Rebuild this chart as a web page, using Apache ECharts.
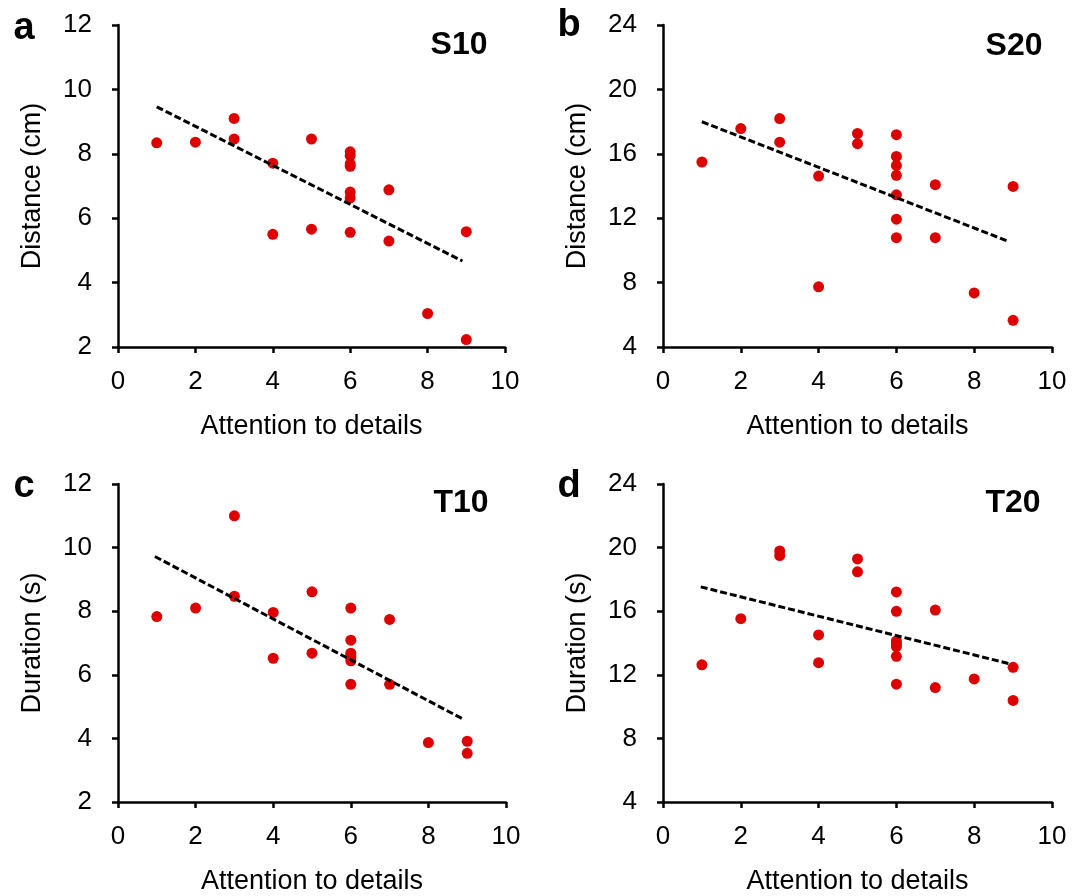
<!DOCTYPE html>
<html>
<head>
<meta charset="utf-8">
<script src="https://cdn.jsdelivr.net/npm/echarts@6/dist/echarts.min.js"></script>
<style>
  html, body { margin: 0; padding: 0; background: #ffffff; }
  #chart { width: 1083px; height: 896px; }
</style>
</head>
<body>
<div id="chart"></div>
<script>
// attention score of each participant (shared by all four panels)
const attention = [1, 2, 3, 3, 4, 4, 5, 5, 6, 6, 6, 6, 6, 6, 6, 7, 7, 8, 9, 9]

const distS10 = [8.34, 8.36, 9.1, 8.46, 7.71, 5.5, 8.46, 5.66, 8.06, 7.94, 7.69, 7.61, 6.81, 6.63, 5.56, 6.88, 5.29, 3.04, 5.58, 2.23]
const distS20 = [15.49, 17.57, 18.19, 16.72, 14.62, 7.74, 17.26, 16.63, 17.19, 15.84, 15.28, 14.66, 13.45, 11.94, 10.79, 14.08, 10.79, 7.36, 13.97, 5.66]
const durT10 = [7.83, 8.1, 11.0, 8.47, 7.96, 6.52, 8.61, 6.68, 8.1, 7.09, 6.68, 6.55, 6.44, 6.6, 5.7, 7.74, 5.7, 3.87, 3.91, 3.53]
const durT20 = [12.63, 15.53, 19.79, 19.5, 14.51, 12.76, 19.29, 18.48, 17.21, 15.99, 14.13, 13.95, 13.78, 13.16, 11.41, 16.07, 11.2, 11.74, 12.47, 10.39]

// linear trend end points (x, y)
const trendS10 = [[1, 9.46], [8.9, 4.67]]
const trendS20 = [[1, 17.99], [8.9, 10.54]]
const trendT10 = [[0.95, 9.72], [8.92, 4.59]]
const trendT20 = [[0.97, 17.53], [8.93, 12.68]]

const panelTitles = ['S10', 'S20', 'T10', 'T20']
const panelLetters = ['a', 'b', 'c', 'd']
const yNames = ['Distance (cm)', 'Distance (cm)', 'Duration (s)', 'Duration (s)']
const yRanges = [[2, 12, 2], [4, 24, 4], [2, 12, 2], [4, 24, 4]]

const FONT = '"Liberation Sans", Arial, Helvetica, sans-serif'

const grids = [
  { left: 118, top: 25, width: 387, height: 322 },
  { left: 663, top: 25, width: 389, height: 322 },
  { left: 118, top: 484, width: 388, height: 320 },
  { left: 663, top: 484, width: 389, height: 320 },
]

const axisLine = { lineStyle: { color: '#000', width: 2.5 } }
const axisTick = { show: true, inside: false, length: 6, lineStyle: { color: '#000', width: 2.5 } }

const xAxes = grids.map((g, i) => ({
  type: 'value',
  gridIndex: i,
  min: 0,
  max: 10,
  interval: 2,
  name: 'Attention to details',
  nameLocation: 'middle',
  nameGap: 66,
  nameTextStyle: { color: '#000', fontSize: 27, fontFamily: FONT },
  axisLine,
  axisTick,
  splitLine: { show: false },
  axisLabel: { color: '#000', fontSize: 26, fontFamily: FONT, margin: 22 },
}))

const yAxes = grids.map((g, i) => ({
  type: 'value',
  gridIndex: i,
  min: yRanges[i][0],
  max: yRanges[i][1],
  interval: yRanges[i][2],
  name: yNames[i],
  nameLocation: 'middle',
  nameGap: 72,
  nameTextStyle: { color: '#000', fontSize: 27, fontFamily: FONT },
  axisLine: { show: true, ...axisLine },
  axisTick,
  splitLine: { show: false },
  axisLabel: { color: '#000', fontSize: 26, fontFamily: FONT, margin: 26 },
}))

const pointSets = [distS10, distS20, durT10, durT20]
const trendSets = [trendS10, trendS20, trendT10, trendT20]

const series = []
pointSets.forEach((ys, i) => {
  series.push({
    type: 'scatter',
    xAxisIndex: i,
    yAxisIndex: i,
    symbol: 'circle',
    symbolSize: 11,
    itemStyle: { color: '#dd0000', opacity: 1 },
    data: attention.map((x, k) => [x, ys[k]]),
    z: 3,
  })
  series.push({
    type: 'line',
    xAxisIndex: i,
    yAxisIndex: i,
    symbol: 'none',
    data: trendSets[i],
    lineStyle: { color: '#000', width: 3, type: [7, 3] },
    z: 4,
  })
})

const titlePos = [[459, 45], [1014, 46], [461, 503], [1013, 503]]
const letterPos = [[24, 29], [569, 26], [24, 487], [569, 487]]

const graphic = []
panelTitles.forEach((t, i) => {
  graphic.push({
    type: 'text',
    x: titlePos[i][0],
    y: titlePos[i][1],
    style: { text: t, fill: '#000', font: 'bold 32px ' + FONT, textAlign: 'center', textVerticalAlign: 'middle' },
  })
  graphic.push({
    type: 'text',
    x: letterPos[i][0],
    y: letterPos[i][1],
    style: { text: panelLetters[i], fill: '#000', font: 'bold 38px ' + FONT, textAlign: 'center', textVerticalAlign: 'middle' },
  })
})

const chart = echarts.init(document.getElementById('chart'))
chart.setOption({
  animation: false,
  backgroundColor: '#ffffff',
  grid: grids,
  xAxis: xAxes,
  yAxis: yAxes,
  series,
  graphic,
})
</script>
</body>
</html>
